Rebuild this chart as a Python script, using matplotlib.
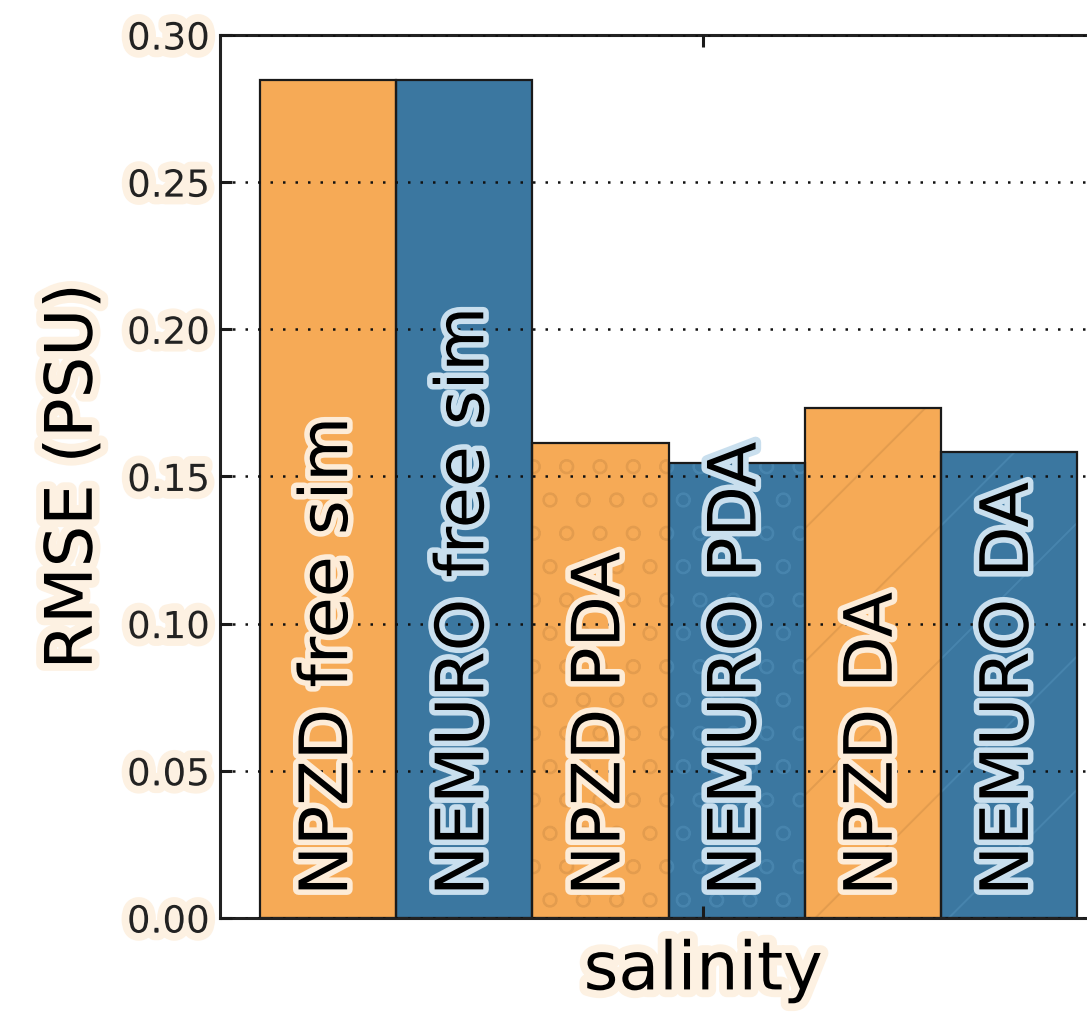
"""
Salinity RMSE per model run: free simulation, PDA and DA for NPZD and NEMURO.
"""

import matplotlib
matplotlib.use("Agg")
import matplotlib.pyplot as plt
import matplotlib.patheffects as pe
import numpy as np

# ── Data ─────────────────────────────────────────────────────────────────────
run_labels = ["NPZD free sim", "NEMURO free sim", "NPZD PDA",
              "NEMURO PDA", "NPZD DA", "NEMURO DA"]
rmse_salinity = [0.2847, 0.2847, 0.1614, 0.1546, 0.1733, 0.1583]
hatches = ["", "", "oo", "oo", "/", "/"]
variable = "salinity"
y_ticks = [0.00, 0.05, 0.10, 0.15, 0.20, 0.25, 0.30]

ORANGE = "#f6aa56"
BLUE = "#3b77a0"
face_colors = [ORANGE, BLUE] * 3
hatch_colors = ["#e39c4e", "#4784ad"] * 3
glow_colors = ["#fdecd8", "#c9dfee"] * 3
CREAM = "#fdf1e2"

plt.rcParams["hatch.linewidth"] = 0.35

DPI = 400
fig = plt.figure(figsize=(1087 / DPI, 1013 / DPI), dpi=DPI)
# axes runs past the right edge of the figure (the panel is cropped there)
ax = fig.add_axes([0.2024, 0.0938, 0.851, 0.8717])

x = np.arange(len(rmse_salinity))

# hatch layer, then outline layer on top
for xi, val, fc, hc, h in zip(x, rmse_salinity, face_colors, hatch_colors, hatches):
    ax.bar(xi, val, width=1.0, color=fc, edgecolor=hc, linewidth=0,
           hatch=h, zorder=1)
ax.bar(x, rmse_salinity, width=1.0, fill=False, edgecolor="#1a1a1a",
       linewidth=0.4, zorder=1.5)

for xi, lab, gc in zip(x, run_labels, glow_colors):
    ax.text(xi, 0.0075, lab, rotation=90, ha="center", va="bottom",
            fontsize=12, color="black", zorder=3,
            path_effects=[pe.withStroke(linewidth=2.0, foreground=gc)])

ax.set_xlim(-0.794, 6.0)
ax.set_ylim(0, 0.30)
ax.set_yticks(y_ticks)
ax.set_yticklabels([f"{t:.2f}" for t in y_ticks])
ax.set_xticks([2.753])
ax.set_xticklabels([variable])

ax.set_axisbelow(False)
ax.yaxis.grid(True, color="#111111", linewidth=0.45,
              linestyle=(0, (1, 4)), zorder=2.5)

ax.tick_params(axis="both", direction="in", length=2.2, width=0.55,
               top=True, right=True, color="#1a1a1a")
ax.tick_params(axis="y", labelsize=6.7, pad=1.8, labelcolor="#222222")
ax.tick_params(axis="x", labelsize=12, pad=3.5)
for spine in ax.spines.values():
    spine.set_linewidth(0.55)
    spine.set_color("#222222")

glow = [pe.withStroke(linewidth=2.8, foreground=CREAM)]
for lbl in ax.get_yticklabels() + ax.get_xticklabels():
    lbl.set_path_effects(glow)

ax.set_ylabel("RMSE (PSU)", fontsize=11.8, labelpad=3.8,
              path_effects=glow)

fig.savefig("out.png", dpi=DPI)
